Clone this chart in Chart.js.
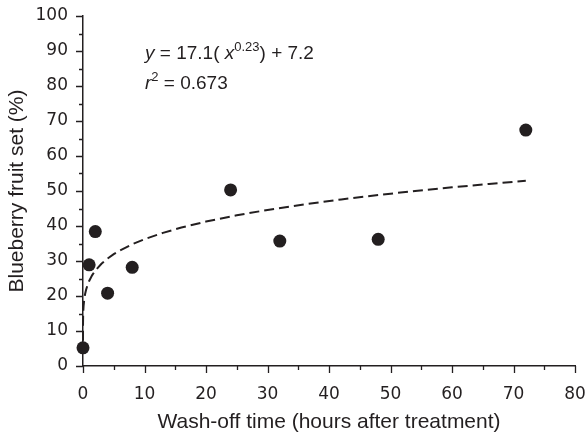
<!DOCTYPE html>
<html>
<head>
<meta charset="utf-8">
<script src="https://cdn.jsdelivr.net/npm/chart.js@4.4.1/dist/chart.umd.min.js"></script>
<style>
  html, body { margin: 0; padding: 0; background: #ffffff; }
  #wrap { width: 586px; height: 433px; position: relative; }
</style>
</head>
<body>
<div id="wrap"><canvas id="c"></canvas></div>
<script>
const washOffHours = [0, 1, 2, 4, 8, 24, 32, 48, 72];
const fruitSetPct  = [5.2, 28.9, 38.4, 20.8, 28.2, 50.3, 35.7, 36.2, 67.4];

// Fitted curve as printed on the chart: y = 17.1 (x^0.23) + 7.2
const FIT_A = 17.1, FIT_B = 0.23, FIT_C = 7.2;
const fitSampleX = [0, 0.005, 0.02, 0.05, 0.1, 0.2, 0.35, 0.5, 0.75, 1, 1.5, 2, 3, 4, 5, 6, 8, 10, 13, 16, 20, 25, 30, 36, 42, 48, 54, 60, 66, 72];

// Axis ticks
const xTicks = [0, 10, 20, 30, 40, 50, 60, 70, 80];
const yTicks = [0, 10, 20, 30, 40, 50, 60, 70, 80, 90, 100];

const INK = '#231f20';
const TICK_FONT = 'DejaVu Sans';
const TEXT_FONT = 'Liberation Sans';

const points = washOffHours.map((x, i) => ({ x: x, y: fruitSetPct[i] }));
const fitPoints = fitSampleX.map(x => ({ x: x, y: FIT_A * Math.pow(x, FIT_B) + FIT_C }));

// Draw major and minor tick marks (outside the axes) using the scales
const tickPlugin = {
  id: 'ticks',
  afterDraw(chart) {
    const ctx = chart.ctx;
    const xs = chart.scales.x, ys = chart.scales.y;
    ctx.save();
    ctx.strokeStyle = INK;
    ctx.lineWidth = 1.3;
    ctx.beginPath();
    for (let v = xs.min; v <= xs.max + 1e-9; v += 5) {
      const px = Math.round(xs.getPixelForValue(v)) + 0.5;
      const len = (v % 10 === 0) ? 7 : 4;
      ctx.moveTo(px, ys.bottom);
      ctx.lineTo(px, ys.bottom + len);
    }
    for (let v = ys.min; v <= ys.max + 1e-9; v += 5) {
      const py = Math.round(ys.getPixelForValue(v)) + 0.5;
      const len = (v % 10 === 0) ? 7 : 4;
      ctx.moveTo(xs.left, py);
      ctx.lineTo(xs.left - len, py);
    }
    ctx.stroke();
    ctx.restore();
  }
};

// Equation annotation
const eqPlugin = {
  id: 'equation',
  afterDraw(chart) {
    const ctx = chart.ctx;
    ctx.save();
    ctx.fillStyle = INK;
    ctx.textBaseline = 'alphabetic';
    const big = '19px "' + TEXT_FONT + '"';
    const bigI = 'italic 19px "' + TEXT_FONT + '"';
    const sup = '13px "' + TEXT_FONT + '"';
    function run(parts, x, y) {
      for (const p of parts) {
        ctx.font = p.f;
        ctx.fillText(p.t, x, y - (p.r || 0));
        x += ctx.measureText(p.t).width;
      }
    }
    run([
      { t: 'y', f: bigI },
      { t: ' = 17.1( ', f: big },
      { t: 'x', f: bigI },
      { t: '0.23', f: sup, r: 8 },
      { t: ') + 7.2', f: big }
    ], 145, 59);
    run([
      { t: 'r', f: bigI },
      { t: '2', f: sup, r: 8 },
      { t: ' = 0.673', f: big }
    ], 145, 89);
    ctx.restore();
  }
};

new Chart(document.getElementById('c'), {
  type: 'scatter',
  data: {
    datasets: [
      {
        label: 'Fit',
        type: 'line',
        data: fitPoints,
        borderColor: INK,
        borderWidth: 2,
        borderDash: [10, 5],
        pointRadius: 0,
        fill: false,
        tension: 0,
        order: 2
      },
      {
        label: 'Observed',
        data: points,
        backgroundColor: INK,
        borderColor: INK,
        borderWidth: 0,
        pointRadius: 6.5,
        pointHoverRadius: 6.5,
        clip: false,
        order: 1
      }
    ]
  },
  options: {
    responsive: true,
    maintainAspectRatio: false,
    animation: false,
    layout: { padding: { top: 16, right: 11, left: 0, bottom: 0 } },
    plugins: { legend: { display: false }, tooltip: { enabled: false } },
    scales: {
      x: {
        type: 'linear',
        min: 0, max: 80,
        afterBuildTicks(scale) { scale.ticks = xTicks.map(v => ({ value: v })); },
        afterFit(scale) { scale.height = 67; scale.paddingLeft = 0; scale.paddingRight = 0; },
        grid: { display: false, drawTicks: false },
        border: { display: true, color: INK, width: 1.5 },
        ticks: { color: INK, font: { family: TICK_FONT, size: 17 }, padding: 18, maxRotation: 0 },
        title: { display: true, text: 'Wash-off time (hours after treatment)', color: INK,
                 font: { family: TEXT_FONT, size: 21 }, padding: { top: 0, bottom: -2 } }
      },
      y: {
        type: 'linear',
        min: 0, max: 100,
        afterBuildTicks(scale) { scale.ticks = yTicks.map(v => ({ value: v })); },
        afterFit(scale) { scale.width = 83; scale.paddingTop = 0; scale.paddingBottom = 0; },
        grid: { display: false, drawTicks: false },
        border: { display: true, color: INK, width: 1.5 },
        ticks: { color: INK, font: { family: TICK_FONT, size: 17 }, padding: 15 },
        title: { display: true, text: 'Blueberry fruit set (%)', color: INK,
                 font: { family: TEXT_FONT, size: 21 }, padding: { top: 5, bottom: 0 } }
      }
    }
  },
  plugins: [tickPlugin, eqPlugin]
});
</script>
</body>
</html>
